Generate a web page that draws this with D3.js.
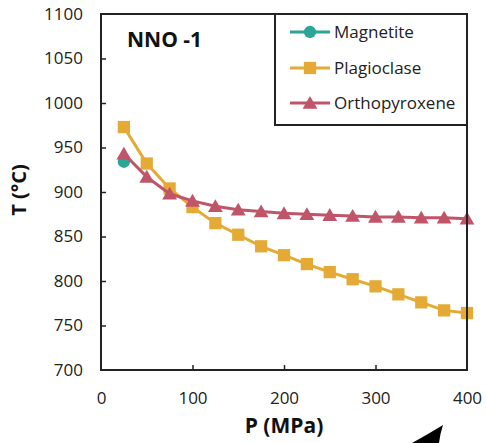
<!DOCTYPE html>
<html>
<head>
<meta charset="utf-8">
<script src="https://cdn.jsdelivr.net/npm/d3@7"></script>
<style>
  html, body { margin: 0; padding: 0; background: #fff; }
  svg { display: block; font-family: "Open Sans", sans-serif; }
</style>
</head>
<body>
<svg id="chart" width="486" height="443"></svg>
<script>
// Pressure steps (MPa)
const pressure = [25, 50, 75, 100, 125, 150, 175, 200, 225, 250, 275, 300, 325, 350, 375, 400];
// Saturation temperatures (°C) for each phase
const magnetiteP = [25];
const magnetiteT = [934];
const plagioclaseT = [973, 932, 904, 883, 865, 852, 839, 829, 819, 810, 802, 794, 785, 776, 767, 764];
const orthopyroxeneT = [943, 917, 898, 890, 884, 880, 878, 876, 875, 874, 873, 872, 872, 871, 871, 870];
const xTicks = [0, 100, 200, 300, 400];
const yTicks = [700, 750, 800, 850, 900, 950, 1000, 1050, 1100];
const seriesNames = ["Magnetite", "Plagioclase", "Orthopyroxene"];
const seriesColors = ["#2aa597", "#e4aa35", "#c0556a"];

const svg = d3.select("#chart");
const plotLeft = 101, plotRight = 467, plotTop = 14, plotBottom = 370;

const x = d3.scaleLinear().domain([0, 400]).range([plotLeft, plotRight]);
const y = d3.scaleLinear().domain([700, 1100]).range([plotBottom, plotTop]);

// Series lines and markers
const series = [
  { name: seriesNames[0], color: seriesColors[0], shape: d3.symbolCircle, size: 120,
    pts: magnetiteP.map((p, i) => [p, magnetiteT[i]]) },
  { name: seriesNames[1], color: seriesColors[1], shape: d3.symbolSquare, size: 150,
    pts: pressure.map((p, i) => [p, plagioclaseT[i]]) },
  { name: seriesNames[2], color: seriesColors[2], shape: d3.symbolTriangle, size: 95,
    pts: pressure.map((p, i) => [p, orthopyroxeneT[i]]) }
];

const line = d3.line().x(d => x(d[0])).y(d => y(d[1]));

// Magnetite first, then plagioclase, then orthopyroxene on top
series.forEach(s => {
  svg.append("path").datum(s.pts)
    .attr("d", line).attr("fill", "none")
    .attr("stroke", s.color).attr("stroke-width", 3);
  svg.append("g").selectAll("path").data(s.pts).join("path")
    .attr("transform", d => `translate(${x(d[0])},${y(d[1]) + (s.shape === d3.symbolTriangle ? 1.5 : 0)})`)
    .attr("d", d3.symbol().type(s.shape).size(s.size))
    .attr("fill", s.color);
});

// Axes with inward ticks
const yAxis = d3.axisLeft(y).tickValues(yTicks).tickSize(-5).tickPadding(18).tickFormat(d3.format("d"));
const gy = svg.append("g").attr("transform", `translate(${plotLeft},0)`).call(yAxis);
gy.select(".domain").remove();
gy.selectAll(".tick line").attr("stroke", "#222").attr("stroke-width", 1.5)
  .filter(d => d === 700 || d === 1100).remove();
gy.selectAll("text").attr("font-size", 17).attr("fill", "#222")
  .attr("font-family", "Open Sans, sans-serif");

const xAxis = d3.axisBottom(x).tickValues(xTicks).tickSize(-5).tickPadding(22).tickFormat(d3.format("d"));
const gx = svg.append("g").attr("transform", `translate(0,${plotBottom})`).call(xAxis);
gx.select(".domain").remove();
gx.selectAll(".tick line").attr("stroke", "#222").attr("stroke-width", 1.5)
  .filter(d => d === 0 || d === 400).remove();
gx.selectAll("text").attr("font-size", 17).attr("fill", "#222")
  .attr("font-family", "Open Sans, sans-serif");

// Plot frame
svg.append("rect")
  .attr("x", plotLeft).attr("y", plotTop)
  .attr("width", plotRight - plotLeft).attr("height", plotBottom - plotTop)
  .attr("fill", "none").attr("stroke", "#222").attr("stroke-width", 2);

// Axis titles
svg.append("text")
  .attr("x", (plotLeft + plotRight) / 2).attr("y", 433)
  .attr("text-anchor", "middle").attr("font-weight", "bold").attr("font-size", 21)
  .attr("fill", "#111").text("P (MPa)");
svg.append("text")
  .attr("transform", `translate(26,${(plotTop + plotBottom) / 2 - 2}) rotate(-90)`)
  .attr("text-anchor", "middle").attr("font-weight", "bold").attr("font-size", 20)
  .attr("fill", "#111").text("T (°C)");

// Panel label
svg.append("text")
  .attr("x", 127).attr("y", 47)
  .attr("font-weight", "bold").attr("font-size", 21)
  .attr("fill", "#111").text("NNO -1");

// Legend
const lg = svg.append("g");
lg.append("rect")
  .attr("x", 275).attr("y", 14).attr("width", plotRight - 275).attr("height", 111)
  .attr("fill", "#fff").attr("stroke", "#222").attr("stroke-width", 2);
const rowY = [32, 68, 103];
series.forEach((s, i) => {
  lg.append("line").attr("x1", 290).attr("x2", 330).attr("y1", rowY[i]).attr("y2", rowY[i])
    .attr("stroke", s.color).attr("stroke-width", 3);
  lg.append("path")
    .attr("transform", `translate(310,${rowY[i] + (s.shape === d3.symbolTriangle ? 1.5 : 0)})`)
    .attr("d", d3.symbol().type(s.shape).size(s.size)).attr("fill", s.color);
  lg.append("text").attr("x", 334).attr("y", rowY[i]).attr("dy", "0.35em")
    .attr("font-size", 17).attr("fill", "#222").text(s.name);
});

// Curved black arrow fragment at the lower right
svg.append("path")
  .attr("d", "M443,425 Q430,433 412,443 L439,443 Q440,434 443,425 Z")
  .attr("fill", "#000");
</script>
</body>
</html>
